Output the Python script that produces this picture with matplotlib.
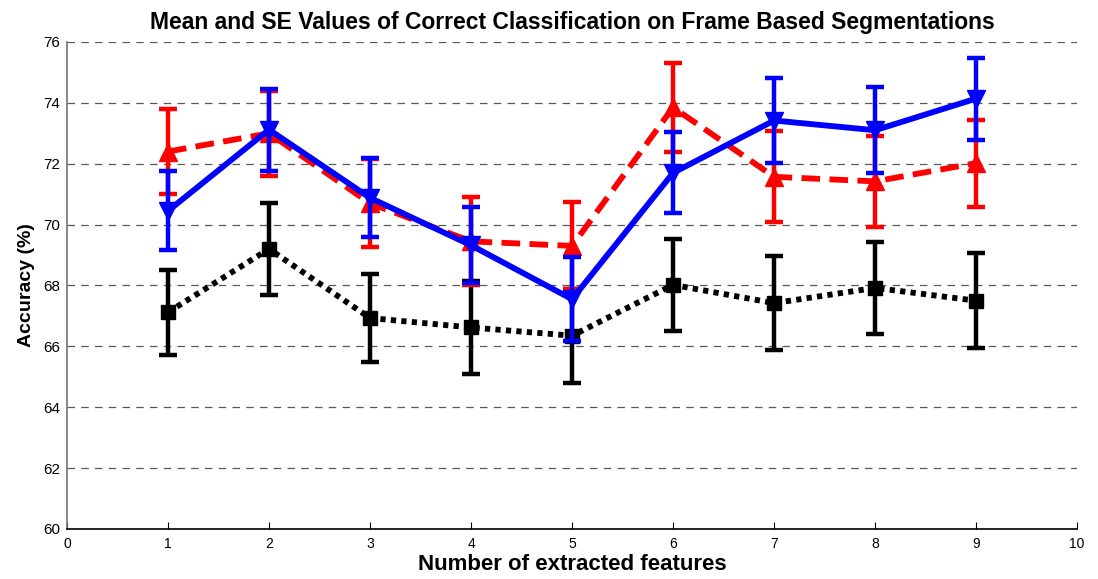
import matplotlib.pyplot as plt

plt.rcParams['font.family'] = ['Liberation Sans', 'DejaVu Sans']

# Número de características extraídas
n_feat = [1, 2, 3, 4, 5, 6, 7, 8, 9]

# Media y error estándar de cada método
red_mean = [72.4, 73.0, 70.7, 69.45, 69.3, 73.85, 71.57, 71.42, 72.02]
red_se = [1.4, 1.4, 1.45, 1.45, 1.43, 1.47, 1.5, 1.5, 1.43]

blue_mean = [70.45, 73.12, 70.88, 69.32, 67.55, 71.7, 73.42, 73.1, 74.14]
blue_se = [1.3, 1.35, 1.3, 1.25, 1.38, 1.33, 1.4, 1.42, 1.35]

black_mean = [67.12, 69.2, 66.93, 66.62, 66.35, 68.02, 67.42, 67.92, 67.5]
black_se = [1.4, 1.5, 1.46, 1.53, 1.55, 1.5, 1.55, 1.5, 1.57]

fig = plt.figure(figsize=(10.98, 5.79), dpi=100)
ax = fig.add_axes([0.061, 0.0864, 0.92, 0.8411])

common = dict(elinewidth=3.2, capsize=6.5, capthick=3.2, lw=4.2)

ax.errorbar(n_feat, black_mean, yerr=black_se, color='black', ls=(0, (0.9, 0.9)),
            marker='s', ms=10, zorder=3, **common)
ax.errorbar(n_feat, red_mean, yerr=red_se, color='red', ls=(0, (3.2, 1.6)),
            marker='^', ms=13, zorder=4, **common)
ax.errorbar(n_feat, blue_mean, yerr=blue_se, color='blue', ls='-',
            marker='v', ms=13, zorder=5, **common)

ax.set_xlim(0, 10)
ax.set_ylim(60, 76)
ax.set_xticks(range(0, 11))
ax.set_yticks(range(60, 77, 2))

ax.yaxis.grid(True, ls=(0, (6, 5)), color='0.35', lw=0.9)
ax.set_axisbelow(True)

ax.spines['top'].set_visible(False)
ax.spines['right'].set_visible(False)
ax.spines['left'].set_color('0.45')
ax.spines['left'].set_linewidth(1.2)
ax.spines['bottom'].set_linewidth(1.2)
ax.tick_params(axis='x', direction='in', length=5, labelsize=10, pad=6)
ax.tick_params(axis='y', direction='in', length=0, labelsize=11, pad=5)

ax.set_xlabel('Number of extracted features', fontsize=16, fontweight='bold', labelpad=2)
ax.set_ylabel('Accuracy (%)', fontsize=14, fontweight='bold', labelpad=6)
ax.set_title('Mean and SE Values of Correct Classification on Frame Based Segmentations',
             fontsize=16.5, fontweight='bold', pad=9)

fig.savefig('out.png', dpi=100)
